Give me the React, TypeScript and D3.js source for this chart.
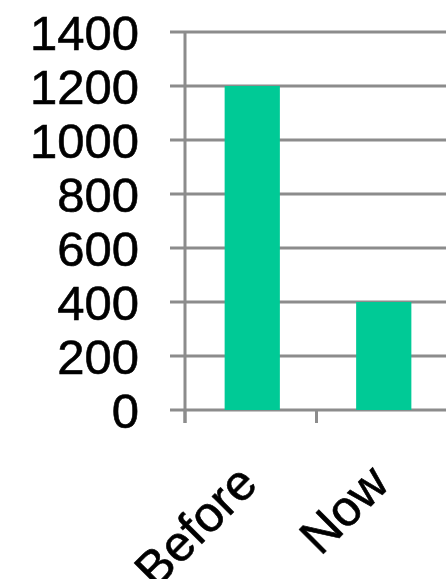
import React from "react";
import * as d3 from "d3";

const categories = ["Before", "Now"];
const values = [1200, 400];
const yTicks = [0, 200, 400, 600, 800, 1000, 1200, 1400];

export default function App() {
  const W = 446, H = 579;
  const y = d3.scaleLinear().domain([0, 1400]).range([410, 32]);
  const x = d3.scaleBand<string>().domain(categories).range([185, 448]).padding(0);
  const barW = x.bandwidth() * 0.42;
  const grid = "#8c8c8c";
  const font = "'Liberation Sans', Arial, sans-serif";
  return (
    <svg width={W} height={H} style={{ position: "absolute", left: 0, top: 0, background: "#fff" }}>
      {yTicks.map((t) => (
        <line key={"g" + t} x1={170} x2={W} y1={y(t)} y2={y(t)} stroke={grid} strokeWidth={3} />
      ))}
      <line x1={185} x2={185} y1={y(1400)} y2={423} stroke={grid} strokeWidth={3} />
      {categories.map((c) => (
        <line key={"t" + c} x1={x(c)!} x2={x(c)!} y1={y(0)} y2={423} stroke={grid} strokeWidth={3} />
      ))}
      {categories.map((c, i) => (
        <rect
          key={c}
          x={x(c)! + x.bandwidth() / 2 - barW / 2 + 1.5}
          y={y(values[i])}
          width={barW}
          height={y(0) - y(values[i])}
          fill="#00CA96"
        />
      ))}
      {yTicks.map((t) => (
        <text
          key={"l" + t}
          x={139}
          y={y(t)}
          dy="0.36em"
          textAnchor="end"
          fontFamily={font}
          fontSize={49}
          fill="#000"
          stroke="#000"
          strokeWidth={0.6}
        >
          {t}
        </text>
      ))}
      {categories.map((c) => {
        const cx = x(c)! + x.bandwidth() / 2 + 9;
        const cy = 486;
        return (
          <text
            key={"x" + c}
            transform={`translate(${cx},${cy}) rotate(-45)`}
            textAnchor="end"
            fontFamily={font}
            fontSize={50}
            fill="#000"
            stroke="#000"
            strokeWidth={0.6}
          >
            {c}
          </text>
        );
      })}
    </svg>
  );
}
